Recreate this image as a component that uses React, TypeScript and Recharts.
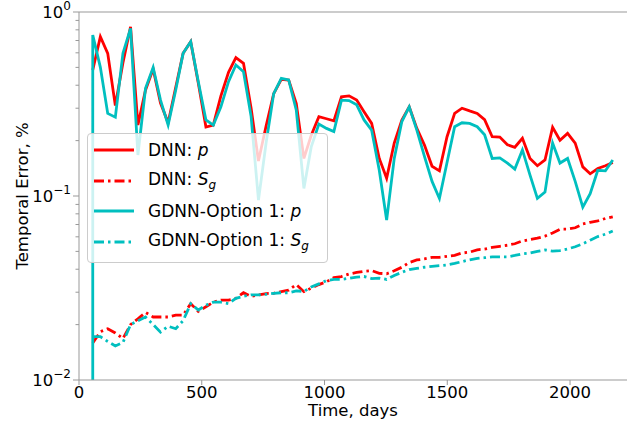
import React from 'react';
import {
  LineChart,
  Line,
  XAxis,
  YAxis,
  Legend,
  ReferenceLine,
  Label,
} from 'recharts';

// sampling days (roughly monthly)
const days = [
  56, 87, 117, 148, 179, 210, 240, 271, 302, 332, 363, 394, 424, 455, 486,
  517, 547, 578, 609, 639, 670, 701, 731, 762, 793, 824, 854, 885, 916, 946,
  977, 1008, 1038, 1069, 1100, 1131, 1161, 1192, 1223, 1253, 1284, 1315,
  1345, 1376, 1407, 1438, 1468, 1499, 1530, 1560, 1591, 1622, 1652, 1683,
  1714, 1745, 1775, 1806, 1837, 1867, 1898, 1929, 1959, 1990, 2021, 2052,
  2082, 2113, 2144, 2174,
];

const dnnP = [
  0.484, 0.734, 0.596, 0.31, 0.53, 0.83, 0.243, 0.377, 0.49, 0.32, 0.25, 0.39,
  0.596, 0.69, 0.41, 0.237, 0.243, 0.35, 0.47, 0.565, 0.526, 0.3, 0.155, 0.24,
  0.36, 0.43, 0.427, 0.318, 0.16, 0.214, 0.27, 0.263, 0.256, 0.346, 0.35,
  0.332, 0.287, 0.248, 0.16, 0.125, 0.194, 0.259, 0.305, 0.233, 0.189, 0.145,
  0.137, 0.21, 0.281, 0.3, 0.29, 0.281, 0.26, 0.21, 0.209, 0.19, 0.184, 0.206,
  0.16, 0.146, 0.157, 0.236, 0.201, 0.219, 0.194, 0.144, 0.132, 0.141, 0.146,
  0.152,
];

const dnnSg = [
  0.0159, 0.0183, 0.019, 0.018, 0.0168, 0.02, 0.0215, 0.0233, 0.022, 0.022,
  0.022, 0.0225, 0.0225, 0.026, 0.0236, 0.025, 0.0265, 0.0272, 0.0272, 0.0278,
  0.0298, 0.0285, 0.029, 0.0295, 0.0296, 0.0302, 0.0308, 0.033, 0.0302,
  0.0316, 0.033, 0.0342, 0.036, 0.0365, 0.0377, 0.0384, 0.039, 0.0393, 0.038,
  0.0378, 0.0392, 0.041, 0.0435, 0.0449, 0.0455, 0.0464, 0.0464, 0.047,
  0.0476, 0.049, 0.0495, 0.051, 0.0515, 0.0525, 0.0533, 0.054, 0.055, 0.057,
  0.058, 0.059, 0.0605, 0.063, 0.066, 0.066, 0.0672, 0.0705, 0.072, 0.0732,
  0.0755, 0.077,
];

// first GDNN pressure value sits far below the axis
const gdnnPStart = 0.001;

const gdnnP = [
  0.75, 0.5, 0.281, 0.268, 0.596, 0.815, 0.167, 0.385, 0.5, 0.332, 0.243,
  0.377, 0.596, 0.69, 0.418, 0.259, 0.243, 0.305, 0.418, 0.515, 0.474, 0.27,
  0.095, 0.194, 0.36, 0.436, 0.427, 0.293, 0.11, 0.185, 0.246, 0.233, 0.224,
  0.332, 0.33, 0.313, 0.259, 0.228, 0.138, 0.074, 0.16, 0.254, 0.305, 0.228,
  0.164, 0.12, 0.097, 0.152, 0.238, 0.25, 0.248, 0.238, 0.215, 0.16, 0.161,
  0.151, 0.14, 0.178, 0.13, 0.097, 0.105, 0.194, 0.151, 0.16, 0.12, 0.087,
  0.103, 0.138, 0.137, 0.157,
];

const gdnnSg = [
  0.0172, 0.0172, 0.0162, 0.0153, 0.016, 0.02, 0.021, 0.022, 0.02, 0.0182,
  0.0196, 0.019, 0.021, 0.026, 0.024, 0.0255, 0.0265, 0.0265, 0.026, 0.0278,
  0.0285, 0.029, 0.029, 0.0292, 0.0296, 0.0298, 0.0298, 0.0305, 0.0303,
  0.032, 0.0333, 0.0347, 0.0352, 0.0352, 0.0357, 0.0362, 0.0365, 0.0356,
  0.0358, 0.0352, 0.037, 0.0385, 0.0398, 0.0404, 0.041, 0.0415, 0.0418,
  0.0422, 0.043, 0.044, 0.045, 0.0458, 0.0462, 0.0467, 0.0467, 0.0467, 0.0475,
  0.0485, 0.049, 0.05, 0.0509, 0.0502, 0.0505, 0.0515, 0.053, 0.055, 0.0575,
  0.0602, 0.062, 0.0645,
];

const xTicks = [0, 500, 1000, 1500, 2000];
const majorYTicks = [0.01, 0.1, 1];
const minorYTicks = [
  0.02, 0.03, 0.04, 0.05, 0.06, 0.07, 0.08, 0.09,
  0.2, 0.3, 0.4, 0.5, 0.6, 0.7, 0.8, 0.9,
];

const toRows = (vals: number[]) => vals.map((v, i) => ({ day: days[i], v }));

const dnnPData = toRows(dnnP);
const dnnSgData = toRows(dnnSg);
const gdnnPData = [{ day: days[0], v: gdnnPStart }, ...toRows(gdnnP)];
const gdnnSgData = toRows(gdnnSg);

const RED = '#ff0000';
const CYAN = '#00bfbf';
const DASHDOT = '10 4 2.5 4';
const FONT = 'DejaVu Sans, sans-serif';
const SPINE = '#999999';

const legendItems = [
  { name: 'DNN: ', color: RED, dash: undefined, sub: false },
  { name: 'DNN: ', color: RED, dash: DASHDOT, sub: true },
  { name: 'GDNN-Option 1: ', color: CYAN, dash: undefined, sub: false },
  { name: 'GDNN-Option 1: ', color: CYAN, dash: DASHDOT, sub: true },
];

function LegendBox() {
  return (
    <div
      style={{
        width: 241,
        background: 'rgba(255,255,255,0.8)',
        border: '1px solid #cccccc',
        borderRadius: 4,
        padding: '1px 0 5px 0',
        fontFamily: FONT,
        fontSize: 17,
        color: '#000',
        boxSizing: 'border-box',
      }}
    >
      {legendItems.map((item, i) => (
        <div
          key={i}
          style={{ display: 'flex', alignItems: 'center', height: 30.5 }}
        >
          <svg width={60} height={10} style={{ flex: 'none' }}>
            <line
              x1={6}
              x2={46}
              y1={5}
              y2={5}
              stroke={item.color}
              strokeWidth={2.8}
              strokeDasharray={item.dash}
            />
          </svg>
          <span style={{ whiteSpace: 'nowrap' }}>
            {item.name}
            {item.sub ? (
              <>
                <i>S</i>
                <sub style={{ fontSize: 12, fontStyle: 'italic' }}>g</sub>
              </>
            ) : (
              <i>p</i>
            )}
          </span>
        </div>
      ))}
    </div>
  );
}

function YTick(props: any) {
  const { x, y, payload } = props;
  const v = payload.value;
  const major = majorYTicks.some((m) => Math.abs(m - v) < 1e-9);
  const exp = Math.round(Math.log10(v));
  return (
    <g>
      <line
        x1={x}
        x2={x - (major ? 6 : 3.5)}
        y1={y}
        y2={y}
        stroke={SPINE}
        strokeWidth={1}
      />
      {major && (
        <text
          x={x - 8}
          y={y + 6}
          textAnchor="end"
          fontFamily={FONT}
          fontSize={16.5}
          fill="#000"
        >
          10
          <tspan dy={-8} fontSize={12}>
            {exp === 0 ? '0' : '\u2212' + Math.abs(exp)}
          </tspan>
        </text>
      )}
    </g>
  );
}

export default function App() {
  return (
    <div style={{ position: 'absolute', left: 0, top: 0, background: '#fff' }}>
      <LineChart
        width={627}
        height={427}
        margin={{ top: 12, right: 0, bottom: 0, left: 0 }}
      >
        <XAxis
          dataKey="day"
          type="number"
          domain={[0, 2232]}
          ticks={xTicks}
          allowDataOverflow
          height={47}
          stroke={SPINE}
          tickSize={5}
          tickMargin={1}
          tick={{ fill: '#000', fontSize: 16.5, fontFamily: FONT }}
        >
          <Label
            content={(p: any) => {
              const vb = p.viewBox;
              return (
                <text
                  x={vb.x + vb.width / 2}
                  y={410}
                  textAnchor="middle"
                  dominantBaseline="central"
                  fontFamily={FONT}
                  fontSize={16.5}
                  fill="#000"
                >
                  Time, days
                </text>
              );
            }}
          />
        </XAxis>
        <YAxis
          dataKey="v"
          scale="log"
          domain={[0.01, 1]}
          allowDataOverflow
          ticks={[...majorYTicks, ...minorYTicks].sort((a, b) => a - b)}
          interval={0}
          width={79}
          stroke={SPINE}
          tickLine={false}
          tickSize={0}
          tickMargin={0}
          tick={<YTick />}
        >
          <Label
            content={() => (
              <text
                x={22}
                y={196}
                transform="rotate(-90, 22, 196)"
                textAnchor="middle"
                dominantBaseline="central"
                fontFamily={FONT}
                fontSize={16.5}
                fill="#000"
              >
                Temporal Error, %
              </text>
            )}
          />
        </YAxis>
        <ReferenceLine y={1} stroke={SPINE} strokeWidth={1} />
        <Line
          data={dnnPData}
          dataKey="v"
          name="DNN p"
          stroke={RED}
          strokeWidth={2.8}
          dot={false}
          isAnimationActive={false}
        />
        <Line
          data={dnnSgData}
          dataKey="v"
          name="DNN Sg"
          stroke={RED}
          strokeWidth={2.8}
          strokeDasharray={DASHDOT}
          dot={false}
          isAnimationActive={false}
        />
        <Line
          data={gdnnPData}
          dataKey="v"
          name="GDNN p"
          stroke={CYAN}
          strokeWidth={2.8}
          dot={false}
          isAnimationActive={false}
        />
        <Line
          data={gdnnSgData}
          dataKey="v"
          name="GDNN Sg"
          stroke={CYAN}
          strokeWidth={2.8}
          strokeDasharray={DASHDOT}
          dot={false}
          isAnimationActive={false}
        />
        <Legend
          layout="vertical"
          align="center"
          verticalAlign="middle"
          content={<LegendBox />}
          wrapperStyle={{ left: 87, top: 133, width: 241 }}
        />
      </LineChart>
    </div>
  );
}
